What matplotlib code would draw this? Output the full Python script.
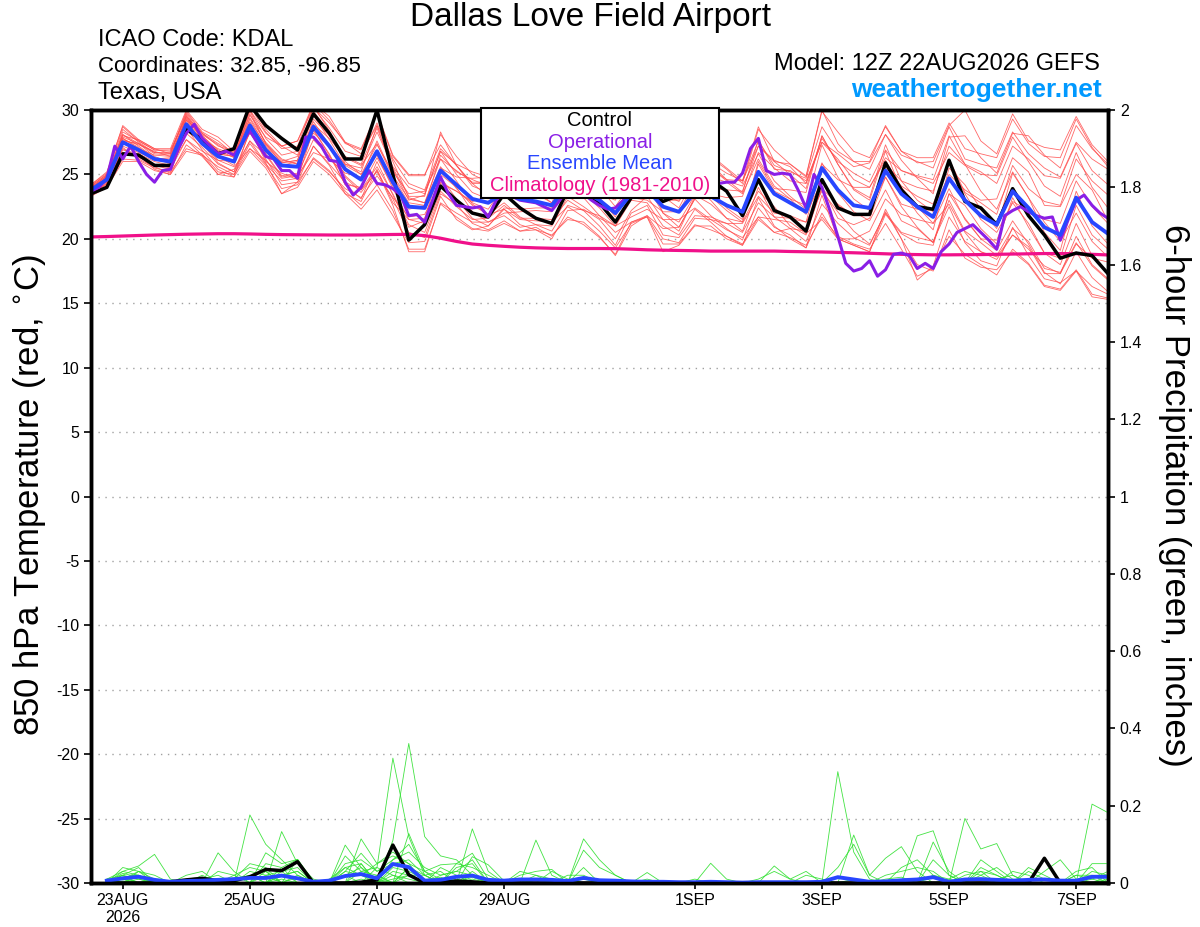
''' GEFS 850 hPa temperature and 6-hour precipitation plume for Dallas Love Field (KDAL). '''
import numpy as np
import matplotlib
matplotlib.use('Agg')
import matplotlib.pyplot as plt
from matplotlib.patches import Rectangle

plt.rcParams['font.family'] = ['Liberation Sans', 'DejaVu Sans']
plt.rcParams['axes.unicode_minus'] = False

# Forecast hours from 12Z 22AUG2026
hours_6h = np.arange(0, 385, 6)      # 65 steps, temperature
hours_3h = np.arange(0, 385, 3)      # 129 steps, operational run
hours_prc = np.arange(6, 385, 6)     # 64 steps, 6-hour precipitation

tick_hours = [12, 60, 108, 156, 228, 276, 324, 372]
tick_labels = ['23AUG\n2026', '25AUG', '27AUG', '29AUG', '1SEP', '3SEP', '5SEP', '7SEP']

# ---- 850 hPa temperature (deg C) ----
control = [23.5, 24.0, 26.6, 26.5, 25.7, 25.7, 28.5, 27.7, 26.6, 27.0, 30.4, 28.8, 27.8, 26.9, 29.7, 28.2,
           26.2, 26.2, 30.0, 25.0, 19.9, 21.1, 24.1, 23.0, 22.0, 21.7, 23.5, 22.4, 21.6, 21.2, 23.8, 23.6,
           22.8, 21.3, 23.2, 23.6, 22.9, 23.4, 24.2, 24.6, 23.7, 21.8, 24.6, 22.2, 21.7, 20.6, 24.6, 22.4,
           21.9, 21.9, 25.9, 23.8, 22.5, 22.3, 26.1, 22.9, 22.4, 21.1, 23.9, 21.8, 20.3, 18.5, 18.9, 18.7,
           17.3]

ens_mean = [23.8, 24.6, 27.5, 26.9, 26.2, 26.0, 28.9, 27.4, 26.4, 26.0, 28.8, 26.9, 25.7, 25.6, 28.7, 27.2,
            25.4, 24.6, 26.8, 24.4, 22.5, 22.4, 25.3, 24.2, 23.1, 22.8, 23.6, 23.1, 22.9, 22.6, 24.2, 23.7,
            23.0, 22.0, 23.5, 23.8, 22.5, 22.1, 23.6, 23.3, 22.6, 22.1, 25.2, 23.5, 22.8, 22.1, 25.5, 23.8,
            22.6, 22.4, 25.3, 23.5, 22.5, 21.7, 24.7, 23.0, 21.8, 21.1, 23.7, 22.4, 20.9, 20.3, 23.2, 21.3,
            20.4]

operational = [23.7, 24.0, 24.7, 27.2, 26.2, 27.2, 26.0, 25.0, 24.4, 25.3, 25.4, 27.0, 28.2, 28.9, 27.8, 27.2,
               26.6, 26.8, 26.5, 27.4, 28.4, 27.4, 26.4, 26.2, 25.3, 25.3, 24.7, 27.9, 27.9, 27.2, 26.1, 26.0,
               24.4, 23.4, 24.0, 25.3, 24.3, 24.2, 23.9, 23.4, 21.8, 21.9, 21.3, 23.0, 24.8, 23.5, 22.6, 22.5,
               22.4, 22.5, 21.7, 23.0, 23.6, 23.3, 23.0, 22.9, 22.8, 22.5, 22.2, 23.0, 23.8, 23.9, 23.5, 23.0,
               22.6, 22.3, 22.4, 23.0, 23.6, 24.0, 24.3, 24.0, 23.6, 23.4, 23.8, 24.2, 24.5, 24.6, 24.4, 24.3,
               24.4, 24.4, 25.1, 27.0, 27.8, 25.3, 25.0, 25.1, 25.0, 23.8, 22.4, 25.0, 24.0, 22.2, 20.2, 18.1,
               17.5, 17.7, 18.3, 17.1, 17.6, 18.8, 18.9, 18.7, 17.7, 18.1, 17.7, 19.0, 19.6, 20.5, 20.8, 21.1,
               20.5, 19.9, 19.2, 21.8, 22.2, 22.5, 22.1, 21.8, 21.6, 21.7, 19.9, 21.5, 23.0, 23.4, 22.6, 22.0,
               21.6]

climatology = [20.15, 20.18, 20.22, 20.26, 20.30, 20.33, 20.36, 20.38, 20.40, 20.40, 20.38, 20.35, 20.33,
               20.32, 20.31, 20.30, 20.30, 20.30, 20.32, 20.34, 20.35, 20.25, 20.05, 19.80, 19.60, 19.50,
               19.42, 19.35, 19.30, 19.27, 19.25, 19.25, 19.25, 19.24, 19.20, 19.15, 19.12, 19.10, 19.08,
               19.05, 19.05, 19.05, 19.05, 19.05, 19.02, 19.00, 18.98, 18.95, 18.92, 18.88, 18.84, 18.80,
               18.78, 18.76, 18.76, 18.77, 18.78, 18.80, 18.82, 18.84, 18.86, 18.86, 18.85, 18.80, 18.75]

mem01 = [24.1, 25.0, 28.5, 27.5, 26.7, 26.7, 29.9, 28.3, 27.6, 26.6, 30.3, 28.3, 27.0, 27.2, 30.5, 29.2, 27.4, 26.9, 29.7, 26.4, 24.9, 24.9, 28.1, 26.4, 25.0, 24.4, 25.1, 25.3, 24.9, 25.4, 26.8, 26.3, 25.4, 24.8, 26.7, 26.3, 25.3, 24.6, 27.2, 26.3, 25.4, 24.3, 28.5, 26.9, 25.8, 24.8, 29.9, 28.3, 26.8, 26.3, 28.7, 26.8, 26.3, 26.3, 29.0, 27.0, 26.6, 26.3, 29.3, 27.4, 26.4, 26.3, 29.3, 27.1, 25.6]
mem02 = [23.4, 24.1, 26.2, 26.1, 25.5, 25.2, 27.0, 26.6, 25.2, 25.0, 27.0, 25.7, 23.9, 24.2, 26.3, 25.3, 23.7, 22.6, 24.2, 22.2, 19.2, 19.2, 22.7, 21.7, 20.8, 20.6, 21.2, 20.6, 20.9, 20.2, 21.7, 21.1, 20.1, 18.8, 21.3, 21.7, 19.6, 19.6, 21.1, 20.7, 20.2, 19.6, 21.7, 20.5, 20.1, 19.5, 21.7, 20.2, 19.6, 19.2, 21.2, 19.2, 17.1, 17.7, 20.2, 18.8, 18.0, 17.2, 19.2, 18.1, 16.4, 16.1, 17.6, 15.7, 15.4]
mem03 = [23.9, 24.8, 28.1, 27.2, 26.3, 25.8, 29.6, 27.8, 26.6, 26.4, 29.7, 27.4, 26.1, 25.8, 29.3, 28.0, 26.4, 25.8, 28.6, 25.5, 23.3, 23.3, 28.3, 25.7, 24.1, 23.6, 24.8, 24.0, 23.5, 22.8, 25.7, 24.7, 23.5, 23.0, 25.7, 25.3, 23.3, 22.4, 24.8, 23.9, 22.4, 21.5, 26.0, 23.9, 23.8, 23.6, 28.0, 25.8, 23.8, 23.0, 26.8, 23.8, 22.0, 20.7, 25.5, 24.2, 22.3, 20.8, 25.1, 23.2, 20.5, 19.1, 23.7, 21.0, 19.6]
mem04 = [23.6, 24.3, 27.0, 26.3, 25.8, 25.5, 28.2, 27.1, 25.8, 25.2, 27.6, 26.5, 24.8, 25.0, 27.7, 26.4, 24.8, 23.6, 25.3, 22.6, 19.0, 19.0, 22.8, 22.0, 21.3, 21.3, 22.0, 22.1, 22.2, 22.1, 24.5, 24.5, 24.2, 23.5, 25.5, 25.4, 23.5, 22.9, 24.8, 24.8, 24.4, 23.5, 26.2, 24.1, 23.1, 21.9, 24.5, 22.6, 21.8, 21.9, 25.8, 24.5, 24.0, 23.7, 27.2, 25.8, 25.2, 24.3, 27.2, 26.2, 24.9, 24.7, 27.4, 25.3, 24.2]
mem05 = [24.2, 25.1, 28.8, 27.7, 27.0, 27.0, 30.0, 28.5, 27.9, 26.8, 30.5, 28.5, 27.2, 27.6, 30.5, 29.5, 27.5, 27.0, 29.8, 26.5, 25.0, 25.0, 27.3, 25.7, 24.3, 23.3, 24.1, 23.9, 24.4, 25.0, 27.0, 26.1, 24.8, 23.2, 26.0, 25.0, 22.0, 20.9, 23.1, 21.8, 20.8, 19.9, 23.2, 21.0, 20.0, 19.3, 22.0, 20.0, 19.5, 19.0, 22.3, 20.0, 18.0, 17.5, 20.7, 18.5, 17.8, 17.6, 19.0, 18.0, 16.3, 16.0, 17.5, 15.5, 15.3]
mem06 = [23.7, 24.6, 27.2, 26.7, 26.2, 26.2, 28.5, 27.4, 26.1, 26.0, 28.2, 26.6, 24.9, 25.1, 28.4, 26.6, 24.2, 23.1, 26.0, 23.4, 20.9, 21.4, 24.8, 23.1, 21.6, 21.0, 22.3, 21.1, 20.7, 20.0, 22.2, 22.3, 21.5, 20.0, 22.2, 23.3, 21.5, 20.6, 23.3, 23.3, 22.2, 21.3, 25.8, 23.7, 23.1, 22.6, 27.3, 24.8, 23.1, 22.2, 24.8, 22.5, 20.9, 19.7, 23.5, 22.6, 20.8, 19.6, 23.2, 20.9, 18.9, 18.5, 22.6, 20.3, 19.2]
mem07 = [24.0, 24.9, 27.9, 27.4, 26.7, 26.6, 29.7, 28.0, 26.8, 26.6, 29.1, 27.3, 25.9, 26.1, 29.6, 27.7, 25.7, 25.0, 27.3, 25.2, 23.5, 23.7, 26.2, 25.3, 24.4, 24.4, 24.8, 24.1, 23.8, 24.0, 25.8, 25.5, 24.5, 23.2, 25.5, 25.6, 24.6, 24.5, 26.4, 25.9, 25.1, 24.5, 27.6, 25.7, 25.2, 24.7, 28.7, 26.8, 26.0, 26.0, 28.8, 26.8, 25.9, 26.0, 28.8, 30.0, 27.6, 26.6, 29.7, 27.6, 27.1, 26.9, 29.5, 27.3, 26.0]
mem08 = [23.5, 24.2, 26.6, 26.4, 25.7, 25.4, 27.7, 26.5, 25.6, 25.0, 27.4, 25.8, 24.5, 24.7, 27.2, 25.8, 24.4, 23.8, 25.6, 23.5, 21.1, 20.5, 23.7, 22.5, 21.5, 21.6, 22.6, 21.6, 21.6, 21.5, 23.0, 22.2, 21.0, 19.5, 22.0, 22.6, 20.3, 20.1, 21.8, 21.7, 21.2, 20.5, 22.8, 21.7, 20.8, 19.8, 22.7, 21.2, 20.1, 19.5, 22.1, 20.0, 16.8, 17.9, 21.7, 19.8, 19.0, 18.4, 20.3, 19.2, 17.9, 17.3, 19.6, 18.5, 18.2]
mem09 = [24.0, 24.7, 28.3, 27.6, 26.9, 26.9, 29.5, 28.2, 27.4, 26.7, 30.0, 27.8, 26.5, 26.8, 30.2, 28.6, 26.8, 26.4, 29.0, 26.0, 23.2, 22.8, 26.2, 24.5, 22.7, 21.9, 22.8, 21.7, 21.1, 21.0, 23.3, 22.5, 21.6, 21.0, 23.0, 22.8, 21.0, 20.3, 22.3, 21.3, 20.2, 19.5, 22.4, 20.9, 20.3, 19.3, 23.4, 20.0, 19.5, 19.0, 21.9, 20.4, 19.7, 19.5, 23.5, 21.6, 20.0, 19.9, 22.9, 22.2, 21.5, 21.2, 24.5, 22.5, 21.2]
mem10 = [23.3, 24.0, 26.0, 26.0, 25.3, 25.0, 26.8, 26.5, 25.0, 24.8, 26.8, 25.5, 23.5, 24.0, 26.0, 25.0, 23.5, 22.3, 23.8, 21.8, 19.7, 19.8, 23.3, 21.5, 20.7, 21.0, 22.4, 22.3, 22.4, 22.4, 25.0, 24.2, 24.5, 24.0, 27.0, 26.5, 24.5, 23.6, 26.1, 25.5, 24.5, 24.1, 26.6, 24.5, 23.3, 22.3, 25.9, 23.6, 22.1, 21.4, 23.8, 21.4, 20.8, 19.7, 23.0, 20.6, 19.7, 18.7, 20.8, 19.8, 17.7, 17.4, 19.7, 17.9, 16.8]
mem11 = [23.8, 24.8, 27.8, 27.0, 26.5, 26.4, 29.2, 27.6, 26.4, 25.7, 29.0, 26.7, 26.0, 26.4, 28.9, 27.8, 26.3, 25.7, 27.4, 24.8, 22.8, 22.6, 26.5, 25.2, 24.6, 24.1, 25.4, 25.5, 25.0, 25.5, 27.0, 26.5, 25.5, 24.2, 25.0, 25.8, 25.1, 25.0, 25.8, 25.8, 24.6, 23.6, 27.7, 25.4, 25.3, 24.5, 27.5, 26.6, 25.6, 25.9, 28.1, 26.5, 26.0, 25.5, 28.7, 26.2, 25.8, 25.5, 28.3, 26.6, 25.5, 24.8, 27.5, 26.2, 25.4]
mem12 = [23.9, 24.4, 26.9, 26.6, 26.0, 25.7, 27.7, 26.8, 26.1, 25.6, 27.0, 26.1, 24.7, 24.9, 26.7, 26.2, 25.1, 24.8, 27.6, 24.9, 23.1, 22.8, 25.6, 23.9, 22.6, 21.9, 22.3, 21.5, 21.4, 21.3, 22.5, 21.7, 20.6, 19.3, 21.2, 21.7, 19.0, 19.5, 21.0, 21.0, 20.0, 19.5, 21.5, 20.5, 20.8, 20.6, 23.9, 22.7, 21.8, 21.8, 25.6, 24.1, 23.3, 22.7, 25.9, 23.5, 21.5, 20.5, 22.8, 21.2, 18.9, 18.0, 21.2, 18.7, 17.4]
mem13 = [23.6, 24.5, 27.7, 27.3, 26.8, 26.4, 29.4, 27.7, 27.0, 26.5, 29.6, 27.9, 27.2, 26.5, 29.9, 28.3, 26.0, 25.0, 26.5, 23.9, 21.5, 21.2, 24.4, 23.7, 22.9, 23.3, 24.6, 24.6, 24.8, 25.1, 26.0, 25.1, 24.0, 22.5, 24.3, 24.1, 22.0, 21.3, 23.4, 22.7, 21.6, 20.6, 24.0, 21.7, 21.6, 21.3, 25.8, 24.6, 24.0, 24.0, 26.3, 25.3, 24.9, 24.6, 28.0, 25.8, 23.7, 22.3, 25.2, 23.2, 21.3, 19.8, 22.0, 19.8, 18.6]
mem14 = [23.9, 24.9, 27.6, 27.4, 26.4, 25.9, 29.2, 28.1, 27.3, 26.4, 29.4, 27.5, 26.2, 25.8, 29.1, 27.3, 24.9, 23.8, 25.2, 23.1, 20.5, 20.1, 23.5, 22.7, 21.2, 20.7, 21.4, 20.6, 20.7, 20.3, 21.5, 21.3, 20.2, 18.7, 21.0, 21.8, 20.8, 20.9, 23.1, 23.5, 23.2, 23.3, 26.7, 25.5, 24.5, 24.3, 27.5, 26.2, 24.6, 24.0, 26.1, 24.0, 22.5, 21.2, 23.9, 21.5, 20.0, 19.1, 21.4, 19.6, 17.4, 16.5, 19.0, 17.0, 15.9]
mem15 = [24.1, 25.0, 27.8, 27.1, 26.2, 26.3, 29.0, 27.4, 25.9, 25.2, 28.3, 26.2, 24.2, 24.4, 27.2, 25.7, 23.5, 22.9, 25.4, 22.8, 21.5, 21.6, 25.5, 24.8, 24.7, 24.8, 25.5, 25.5, 25.0, 25.5, 26.8, 26.2, 24.8, 24.0, 26.5, 26.5, 24.5, 23.5, 26.8, 26.5, 25.5, 24.5, 28.7, 26.0, 25.0, 23.9, 28.0, 25.8, 23.9, 23.2, 27.3, 24.5, 23.0, 22.1, 26.2, 23.6, 22.8, 21.9, 25.7, 23.9, 22.9, 22.6, 26.2, 24.5, 23.4]
mem16 = [23.5, 24.4, 26.7, 26.5, 25.4, 25.0, 27.3, 26.4, 25.0, 25.4, 27.6, 25.9, 23.5, 24.4, 26.2, 25.2, 23.9, 23.2, 24.9, 23.2, 21.7, 21.9, 24.3, 23.7, 22.8, 22.3, 24.1, 23.9, 24.1, 24.4, 25.6, 24.8, 24.5, 23.7, 24.5, 25.0, 23.0, 23.0, 24.0, 23.0, 21.6, 21.3, 23.7, 22.5, 21.0, 20.3, 24.0, 21.6, 21.1, 21.6, 24.8, 22.7, 22.3, 22.2, 25.0, 23.8, 23.0, 23.1, 26.3, 25.2, 22.6, 22.5, 25.0, 23.8, 21.4]
mem17 = [24.0, 24.9, 28.1, 27.4, 26.6, 26.5, 29.3, 28.0, 26.9, 26.3, 29.3, 27.2, 25.7, 26.0, 28.2, 27.2, 25.8, 25.5, 28.3, 25.6, 24.0, 23.5, 26.8, 25.8, 25.2, 24.8, 25.2, 24.3, 23.7, 22.8, 24.0, 23.2, 21.8, 20.5, 21.3, 21.8, 20.0, 19.7, 21.6, 21.5, 20.7, 20.1, 21.7, 21.5, 21.3, 20.4, 21.5, 20.0, 20.0, 20.6, 23.1, 21.9, 21.5, 21.2, 22.7, 20.5, 19.0, 18.6, 20.3, 19.4, 17.3, 17.3, 20.2, 18.0, 16.9]
mem18 = [23.8, 24.5, 28.0, 27.7, 27.0, 26.6, 29.8, 28.2, 27.2, 26.8, 30.0, 28.2, 27.2, 27.6, 30.2, 29.0, 27.5, 26.6, 28.8, 26.2, 24.3, 23.8, 27.0, 25.7, 24.3, 24.3, 25.4, 24.7, 24.0, 23.1, 25.4, 24.5, 23.2, 21.7, 24.3, 24.1, 23.0, 23.1, 27.5, 25.5, 24.6, 24.5, 27.2, 26.1, 25.6, 24.3, 27.8, 26.0, 25.1, 24.4, 26.9, 25.3, 24.8, 24.3, 26.7, 25.7, 25.0, 24.9, 27.9, 26.0, 24.1, 23.3, 26.7, 24.0, 22.4]
mem19 = [23.4, 24.3, 27.1, 26.2, 25.6, 25.1, 28.6, 26.9, 25.4, 24.8, 28.5, 26.0, 25.1, 24.6, 28.5, 26.5, 24.2, 24.0, 26.3, 24.1, 22.3, 22.6, 25.0, 24.0, 22.1, 21.3, 21.8, 20.9, 21.1, 20.6, 22.6, 22.2, 21.8, 21.0, 21.7, 22.3, 21.5, 21.5, 22.4, 21.5, 21.2, 21.2, 23.3, 22.0, 21.8, 21.3, 23.7, 22.1, 20.6, 19.6, 22.0, 20.5, 20.1, 19.8, 22.5, 19.7, 18.3, 17.9, 20.9, 18.7, 16.9, 16.6, 17.5, 16.3, 15.7]
mem20 = [24.2, 25.2, 28.7, 27.6, 26.9, 26.8, 29.5, 27.7, 26.6, 26.4, 29.9, 27.4, 25.9, 26.1, 30.3, 28.4, 25.8, 25.2, 28.8, 25.4, 23.0, 23.4, 26.8, 25.0, 23.6, 23.1, 24.4, 23.4, 22.9, 22.2, 24.7, 23.5, 22.4, 21.0, 23.2, 23.0, 22.1, 22.1, 24.4, 23.9, 23.8, 23.7, 27.2, 26.0, 25.8, 24.9, 30.0, 27.4, 26.0, 25.4, 28.1, 26.1, 24.7, 23.5, 27.9, 28.0, 26.3, 25.1, 28.2, 28.0, 26.5, 25.5, 28.8, 27.0, 25.8]

temp_members = [mem01, mem02, mem03, mem04, mem05, mem06, mem07, mem08, mem09, mem10,
                mem11, mem12, mem13, mem14, mem15, mem16, mem17, mem18, mem19, mem20]

# ---- 6-hour precipitation (inches), steps 1..64 ----
prc_control = [0, 0, 0, 0, 0.003, 0.008, 0.012, 0.006, 0.006, 0.016, 0.035, 0.032, 0.055, 0, 0, 0,
               0.002, 0.008, 0.098, 0.021, 0, 0.002, 0.005, 0.003, 0, 0, 0, 0, 0, 0, 0, 0,
               0, 0, 0, 0, 0, 0, 0, 0, 0, 0, 0, 0, 0, 0, 0, 0,
               0, 0, 0, 0, 0, 0, 0, 0, 0, 0, 0, 0.064, 0, 0, 0, 0]
prc_mean = [0.006, 0.012, 0.016, 0.008, 0.003, 0.005, 0.006, 0.008, 0.010, 0.013, 0.013, 0.019, 0.012, 0.003, 0.006, 0.018,
            0.023, 0.012, 0.049, 0.041, 0.006, 0.008, 0.016, 0.019, 0.008, 0.006, 0.009, 0.009, 0.008, 0.005, 0.013, 0.007,
            0.006, 0.004, 0.003, 0.003, 0.002, 0.002, 0.003, 0.002, 0.001, 0.002, 0.002, 0.002, 0.002, 0.003, 0.015, 0.009,
            0.003, 0.004, 0.007, 0.009, 0.015, 0.003, 0.009, 0.010, 0.008, 0.006, 0.008, 0.009, 0.006, 0.006, 0.016, 0.016]

# members: {step: amount}, steps with no rain are zero
prc01 = {2: .04, 3: .03, 4: .01, 10: .176, 11: .10, 12: .06, 13: .02, 18: .04, 19: .323, 20: .12, 21: .02,
         24: .14, 25: .03, 47: .288, 48: .08, 49: .01}
prc02 = {1: .01, 2: .03, 3: .044, 4: .074, 5: .01, 8: .078, 9: .03, 12: .133, 13: .05, 14: .01, 19: .11,
         20: .361, 21: .12, 22: .07, 23: .06, 24: .02, 55: .167, 56: .088, 57: .102, 58: .02}
prc03 = {2: .02, 3: .01, 7: .02, 11: .078, 12: .05, 13: .061, 16: .098, 17: .04, 18: .01, 20: .128, 21: .03,
         22: .047, 23: .05, 24: .077, 25: .01, 28: .111, 29: .02, 52: .122, 53: .135, 54: .02, 63: .204, 64: .182}
prc04 = {1: .005, 2: .015, 3: .02, 9: .02, 10: .04, 11: .03, 13: .061, 14: .005, 17: .114, 18: .05, 19: .08,
         20: .05, 24: .068, 25: .047, 26: .005, 31: .114, 32: .06, 33: .02, 48: .124, 49: .02, 50: .064,
         51: .094, 52: .03}
prc05 = {2: .03, 3: .02, 8: .03, 9: .02, 12: .04, 13: .061, 16: .03, 17: .077, 18: .03, 19: .06, 20: .08,
         21: .04, 22: .02, 23: .03, 24: .06, 31: .085, 32: .04, 33: .02, 35: .027, 53: .106, 54: .03,
         59: .04, 60: .02}
prc06 = {3: .03, 4: .02, 6: .02, 7: .03, 11: .05, 12: .04, 16: .05, 17: .06, 18: .03, 19: .05, 20: .06,
         21: .02, 23: .04, 24: .05, 27: .02, 28: .03, 29: .035, 31: .04, 39: .051, 40: .01, 53: .06,
         54: .02, 56: .06, 57: .03, 63: .05, 64: .05}
prc07 = {2: .01, 3: .03, 9: .01, 10: .02, 16: .07, 17: .03, 18: .02, 20: .04, 22: .04, 23: .02, 27: .03,
         28: .02, 30: .01, 43: .044, 44: .01, 45: .03, 47: .04, 48: .10, 49: .02, 60: .03, 61: .06, 62: .01}
prc08 = {1: .01, 2: .02, 12: .03, 13: .04, 17: .05, 19: .04, 20: .03, 21: .01, 24: .03, 28: .02, 29: .01,
         51: .04, 52: .06, 53: .02, 56: .04, 57: .02, 63: .03, 64: .02}
prc09 = {2: .025, 3: .015, 6: .01, 7: .015, 10: .03, 11: .02, 16: .04, 17: .05, 19: .03, 20: .02, 22: .02,
         23: .03, 24: .02, 35: .01, 42: .01, 43: .03, 44: .01, 54: .01, 55: .03, 56: .02, 58: .03,
         59: .02, 62: .02, 63: .01, 64: .03}
prc10 = {4: .01, 7: .01, 8: .02, 12: .02, 13: .03, 15: .01, 16: .04, 17: .02, 18: .05, 19: .07, 20: .05,
         21: .03, 22: .01, 27: .01, 30: .02, 31: .02, 50: .02, 51: .03, 52: .04, 53: .03, 57: .01,
         58: .02, 62: .03, 63: .04}
prc11 = {2: .02, 3: .04, 11: .02, 12: .03, 17: .03, 18: .04, 19: .02, 23: .05, 24: .04, 25: .02, 29: .03,
         30: .01, 45: .02, 46: .01, 56: .03, 57: .02, 64: .01}
prc12 = {3: .01, 9: .01, 10: .05, 11: .04, 13: .02, 16: .02, 17: .04, 19: .06, 20: .10, 21: .03, 24: .02,
         31: .01, 55: .02, 56: .03, 59: .03, 60: .01}
prc13 = {2: .01, 12: .02, 13: .03, 18: .02, 20: .02, 21: .02, 22: .03, 28: .01, 48: .01, 53: .02, 54: .01,
         62: .02, 63: .02}
prc14 = {1: .005, 3: .02, 8: .01, 11: .03, 16: .03, 17: .02, 19: .02, 20: .01, 24: .015, 38: .01, 56: .02,
         57: .04, 58: .01}
prc15 = {2: .015, 4: .01, 10: .02, 12: .01, 17: .01, 20: .04, 21: .02, 23: .01, 27: .01, 50: .01, 51: .015,
         64: .02}
prc16 = {2: .005, 13: .015, 16: .02, 19: .01, 20: .02, 22: .015, 24: .01, 52: .01, 63: .01}

prc_members = [prc01, prc02, prc03, prc04, prc05, prc06, prc07, prc08,
               prc09, prc10, prc11, prc12, prc13, prc14, prc15, prc16]

c_red = '#ff4d4d'
c_green = '#2ee02e'
c_purple = '#8a1ee6'
c_blue = '#2846ff'
c_pink = '#f0108a'

fig = plt.figure(figsize=(12, 9.27), dpi=100)
ax = fig.add_axes([0.0758, 0.0475, 0.8475, 0.8338])
ax2 = ax.twinx()

# Temperature plume
for m in temp_members:
    ax.plot(hours_6h, m, color=c_red, linewidth=0.6, alpha=0.85)
ax.plot(hours_6h, climatology, color=c_pink, linewidth=2.3)
ax.plot(hours_6h, control, color='black', linewidth=2.5)
ax.plot(hours_3h, operational, color=c_purple, linewidth=2.2)
ax.plot(hours_6h, ens_mean, color=c_blue, linewidth=2.8)

# Precipitation plume
for m in prc_members:
    amounts = np.zeros(len(hours_prc))
    for step, val in m.items():
        amounts[step - 1] = val
    ax2.plot(hours_prc, amounts, color=c_green, linewidth=0.6, alpha=0.9)
ax2.plot(hours_prc, prc_control, color='black', linewidth=2.5)
ax2.plot(hours_prc, prc_mean, color=c_blue, linewidth=2.8)

ax.set_xlim(0, 384)
ax.set_ylim(-30, 30)
ax2.set_ylim(0, 2)
ax.set_yticks(np.arange(-30, 31, 5))
ax2.set_yticks(np.arange(0, 2.01, 0.2))
ax2.set_yticklabels(['0', '0.2', '0.4', '0.6', '0.8', '1', '1.2', '1.4', '1.6', '1.8', '2'])
ax.set_xticks(tick_hours)
ax.set_xticklabels(tick_labels)
ax.yaxis.grid(True, linestyle=(0, (1, 4)), color='#a0a0a0', linewidth=1.0)

for a in (ax, ax2):
    for s in a.spines.values():
        s.set_linewidth(2.5)
    a.tick_params(labelsize=11.5, width=1.2, length=5)
ax.tick_params(axis='x', length=4, pad=3)

fig.text(0.025, 0.466, r'850 hPa Temperature (red, $^{\circ}$C)', rotation=90,
         ha='center', va='center', fontsize=25)
fig.text(0.979, 0.466, '6-hour Precipitation (green, inches)', rotation=270,
         ha='center', va='center', fontsize=25)

# Header
fig.text(0.4917, 0.9806, 'Dallas Love Field Airport', ha='center', va='center', fontsize=24)
fig.text(0.0817, 0.9569, 'ICAO Code: KDAL', ha='left', va='center', fontsize=17)
fig.text(0.0817, 0.9288, 'Coordinates: 32.85, -96.85', ha='left', va='center', fontsize=16)
fig.text(0.0817, 0.8997, 'Texas, USA', ha='left', va='center', fontsize=17)
fig.text(0.9167, 0.931, 'Model: 12Z 22AUG2026 GEFS', ha='right', va='center', fontsize=17)
fig.text(0.9183, 0.903, 'weathertogether.net', ha='right', va='center', fontsize=19,
         fontweight='bold', color='#0099ff')

# Legend box
fig.add_artist(Rectangle((0.4006, 0.7861), 0.1988, 0.0971, transform=fig.transFigure,
                         facecolor='white', edgecolor='black', linewidth=1.5, zorder=5))
legend_rows = [('Control', 'black', 0.8698), ('Operational', c_purple, 0.8465),
               ('Ensemble Mean', c_blue, 0.8231), ('Climatology (1981-2010)', c_pink, 0.7994)]
for label, col, yy in legend_rows:
    fig.text(0.5, yy, label, ha='center', va='center', fontsize=14.5, color=col, zorder=6)

fig.savefig('out.png', dpi=100)
